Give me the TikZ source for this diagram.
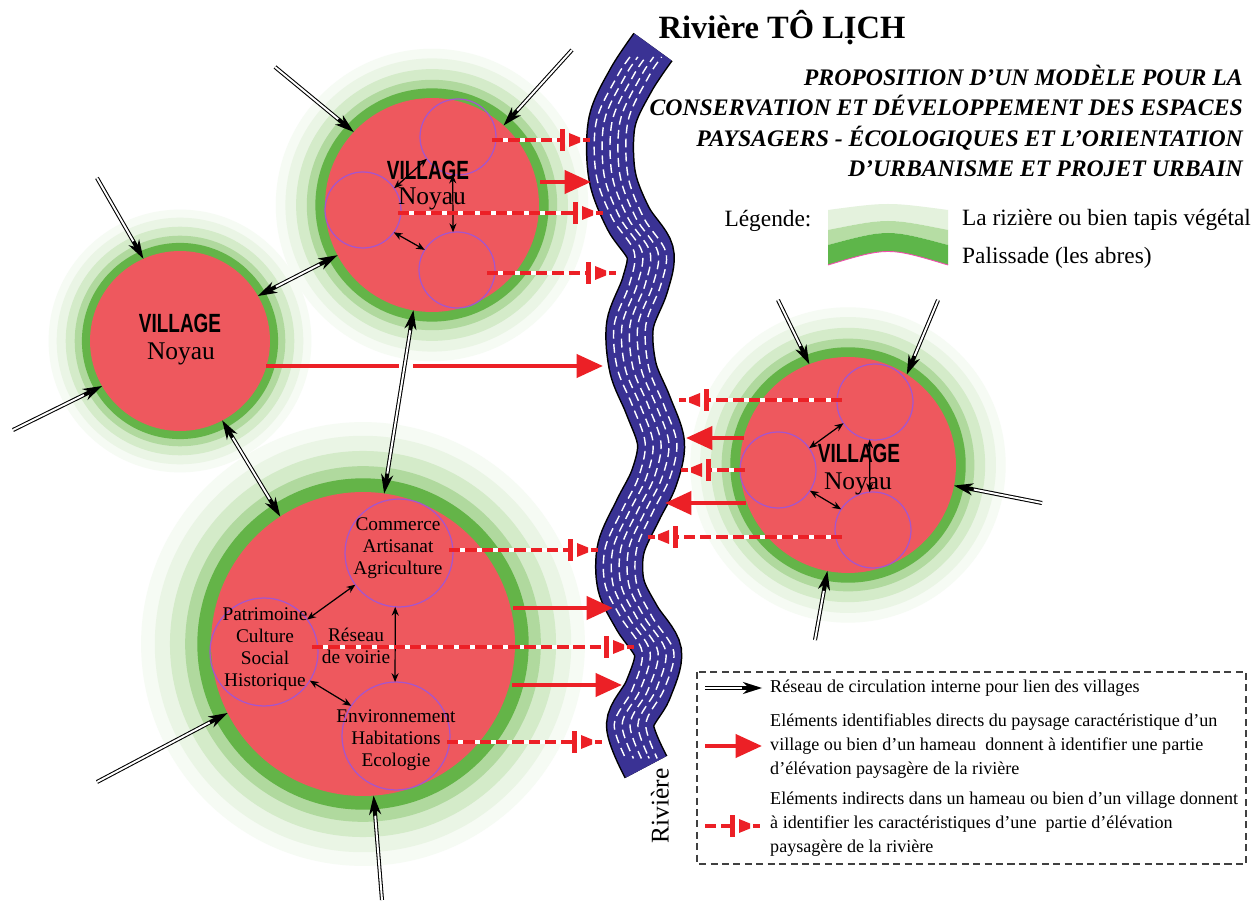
\documentclass[tikz,border=0pt]{standalone}
\usepackage{fontspec}
\setmainfont{Liberation Serif}
\newfontfamily\villfont{Liberation Sans}[FakeStretch=0.72]
\usetikzlibrary{arrows.meta}
\definecolor{vred}{RGB}{238,88,94}
\definecolor{vgreen}{RGB}{100,180,72}
\definecolor{gmed}{RGB}{176,217,158}
\definecolor{glight}{RGB}{212,235,201}
\definecolor{gfaint}{RGB}{234,245,229}
\definecolor{gfaintb}{RGB}{246,251,244}
\definecolor{ared}{RGB}{236,32,38}
\definecolor{rblue}{RGB}{58,50,148}
\definecolor{ipurple}{RGB}{165,85,205}
\definecolor{lgpale}{RGB}{228,242,221}
\definecolor{lgmid}{RGB}{182,221,164}
\definecolor{lgdark}{RGB}{94,182,74}
\newcommand\rivercurve{plot[smooth, tension=0.55] coordinates {(653,47) (631,80) (612,122) (612,175) (628,218) (650,252) (645,285) (630,325) (633,368) (648,405) (661,443) (654,478) (638,510) (621,548) (621,585) (637,618) (658,652) (648,690) (630,725) (646,767)}}
\begin{document}
\begin{tikzpicture}[x=0.02cm,y=-0.02cm,
  village/.style={circle, fill=vred, inner sep=0pt, outer sep=0pt},
  sub/.style={circle, draw=ipurple, line width=0.7pt, inner sep=0pt, outer sep=0pt},
  road/.style={draw=black, line width=2.3pt, -{Stealth[length=11pt,width=7pt,line width=0pt]},
     postaction={draw=white, line width=1.1pt, -, shorten >=11.5pt}},
  roadboth/.style={draw=black, line width=2.3pt, {Stealth[length=11pt,width=7pt,line width=0pt]}-{Stealth[length=11pt,width=7pt,line width=0pt]},
     postaction={draw=white, line width=1.1pt, -, shorten >=11.5pt, shorten <=11.5pt}},
  link/.style={draw=black, line width=0.7pt, {Stealth[length=5pt,width=4pt]}-{Stealth[length=5pt,width=4pt]}},
  direct/.style={draw=ared, line width=2.5pt},
  directtip/.style={draw=ared, line width=2.5pt, -{Triangle[length=15pt,width=13pt]}},
  indirect/.style={draw=ared, line width=2.3pt, dash pattern=on 6.5pt off 2.8pt, shorten >=16pt,
     preaction={draw=white, solid, line width=2.3pt, shorten >=16pt}},
  vname/.style={inner sep=0pt, font=\villfont\bfseries\fontsize{15}{15}\selectfont},
  noyau/.style={inner sep=0pt, font=\fontsize{14.5}{15}\selectfont},
  ctext/.style={font=\fontsize{11}{12.6}\selectfont, align=center},
  legtext/.style={anchor=west, align=left, font=\fontsize{10.3}{13.6}\selectfont},
  itip/.pic={
    \fill[ared] (-30,-11) rectangle (-25,11);
    \fill[ared] (-21,-7) -- (-10,-2.5) -- (-10,2.5) -- (-21,7) -- cycle;
    \draw[ared, line width=2.3pt] (-7,0) -- (0,0);
  }
]
\useasboundingbox (0,0) rectangle (1258,901);
\fill[white] (0,0) rectangle (1258,901);

% centres
\coordinate (cA) at (180,341);
\coordinate (cB) at (432,205);
\coordinate (cC) at (363,644);
\coordinate (cD) at (848,465);

% halos and palisades
\foreach \f/\col in {1.46/gfaintb,1.37/gfaint,1.27/glight,1.17/gmed,1.09/vgreen}{
  \foreach \cc/\rr in {cA/90,cB/107,cC/152,cD/108}{
    \fill[\col] (\cc) circle[radius={\f*\rr*0.02cm}];
  }
}

% villages
\node[village, minimum size=3.6cm] (A) at (cA) {};
\node[village, minimum size=4.28cm] (B) at (cB) {};
\node[village, minimum size=6.08cm] (C) at (cC) {};
\node[village, minimum size=4.32cm] (D) at (cD) {};

% inner circles
\node[sub, minimum size=1.52cm] (B1) at (458,137) {};
\node[sub, minimum size=1.52cm] (B2) at (363,210) {};
\node[sub, minimum size=1.52cm] (B3) at (457,270) {};
\node[sub, minimum size=1.52cm] (D1) at (875,402) {};
\node[sub, minimum size=1.52cm] (D2) at (778,470) {};
\node[sub, minimum size=1.52cm] (D3) at (873,530) {};
\node[sub, minimum size=2.16cm] (C1) at (399,553) {};
\node[sub, minimum size=2.16cm] (C2) at (264,652) {};
\node[sub, minimum size=2.16cm] (C3) at (396,736) {};

% inner links
\draw[link] (B1.215) -- (B2.35);
\draw[link] (B1.262) -- (B3.96);
\draw[link] (B2.-36) -- (B3.148);
\draw[link] (D2.35) -- (D1.214);
\draw[link] (D2.-33) -- (D3.147);
\draw[link] (D1.262) -- (D3.95);
\draw[link] (C2.37) -- (C1.216);
\draw[link] (C1.266) -- (C3.91);
\draw[link] (C2.-32) -- (C3.146);

% texts in villages
\node[vname] (vA) at (180,323) {VILLAGE};
\node[noyau] (nA) at (181,354) {Noyau};
\node[vname] (vB) at (428,170) {VILLAGE};
\node[noyau] (nB) at (432,199) {Noyau};
\node[vname] (vD) at (859,453) {VILLAGE};
\node[noyau] (nD) at (858,484) {Noyau};
\node[ctext] (tC1) at (398,548) {Commerce\\Artisanat\\Agriculture};
\node[ctext] (tC2) at (265,649) {Patrimoine\\Culture\\Social\\Historique};
\node[ctext] (tC3) at (396,740) {Environnement\\Habitations\\Ecologie};
\node[ctext] (tR) at (356,646) {Réseau\\de voirie};

% river
\draw[black, line width=27.5pt] \rivercurve;
\draw[rblue, line width=25.8pt] \rivercurve;
\foreach \s/\ph in {-9/0,-4.5/3,0/6,4.5/1.5,9/4.5}{
  \draw[white, line width=0.8pt, dash pattern=on 5pt off 3pt, dash phase=\ph pt, xshift=\s pt, shorten <=7pt, shorten >=7pt] \rivercurve;
}
\node[rotate=90, font=\fontsize{14.5}{15}\selectfont] (rivlab) at (660,806) {Rivière};

% direct arrows
\coordinate (dBs) at (540,182); \coordinate (dBe) at (591,182);
\coordinate (dAs) at (266,366); \coordinate (dAg1) at (399,366); \coordinate (dAg2) at (413,366); \coordinate (dAe) at (603,366);
\coordinate (dC1s) at (513,608); \coordinate (dC1e) at (613,608);
\coordinate (dC2s) at (512,685); \coordinate (dC2e) at (622,685);
\coordinate (dD1s) at (744,438); \coordinate (dD1e) at (686,438);
\coordinate (dD2s) at (746,503); \coordinate (dD2e) at (665,503);
\draw[directtip] (dBs) -- (dBe);
\draw[direct] (dAs) -- (dAg1);
\draw[directtip] (dAg2) -- (dAe);
\draw[directtip] (dC1s) -- (dC1e);
\draw[directtip] (dC2s) -- (dC2e);
\draw[directtip] (dD1s) -- (dD1e);
\draw[directtip] (dD2s) -- (dD2e);

% indirect arrows
\coordinate (iB1s) at (492,140); \coordinate (iB1e) at (590,140);
\coordinate (iB2s) at (398,213); \coordinate (iB2e) at (603,213);
\coordinate (iB3s) at (487,273); \coordinate (iB3e) at (616,273);
\coordinate (iC1s) at (449,550); \coordinate (iC1e) at (598,550);
\coordinate (iC2s) at (312,647); \coordinate (iC2e) at (634,647);
\coordinate (iC3s) at (447,742); \coordinate (iC3e) at (602,742);
\coordinate (iD1s) at (842,400); \coordinate (iD1e) at (679,400);
\coordinate (iD2s) at (745,470); \coordinate (iD2e) at (681,470);
\coordinate (iD3s) at (842,537); \coordinate (iD3e) at (648,537);
\foreach \n in {iB1,iB2,iB3,iC1,iC2,iC3}{
  \draw[indirect] (\n s) -- (\n e);
  \pic at (\n e) {itip};
}
\foreach \n in {iD1,iD2,iD3}{
  \draw[indirect] (\n s) -- (\n e);
  \pic[rotate=180] at (\n e) {itip};
}

% roads
\coordinate (r1) at (97,178);
\coordinate (r2) at (13,430);
\coordinate (r6) at (275,67);
\coordinate (r7) at (572,50);
\coordinate (r8) at (97,782);
\coordinate (r9) at (382,900);
\coordinate (r10) at (778,300);
\coordinate (r11) at (938,300);
\coordinate (r12) at (1042,503);
\coordinate (r13) at (815,640);
\draw[road] (r1) -- (A.114.6);
\draw[road] (r2) -- (A.210);
\draw[roadboth] (A.30) -- (B.208);
\draw[roadboth] (A.-62) -- (C.123);
\draw[roadboth] (B.260) -- (C.82);
\draw[road] (r6) -- (B.137.6);
\draw[road] (r7) -- (B.48.3);
\draw[road] (r8) -- (C.207.5);
\draw[road] (r9) -- (C.-86.4);
\draw[road] (r10) -- (D.111.4);
\draw[road] (r11) -- (D.57.2);
\draw[road] (r12) -- (D.-11.4);
\draw[road] (r13) -- (D.259);

% titles
\node[font=\bfseries\fontsize{18.5}{20}\selectfont] (title) at (782,28) {Rivière TÔ LỊCH};
\node[anchor=east, align=right, font=\bfseries\itshape\fontsize{13.5}{17.3}\selectfont] (subtitle) at (1249,121)
  {PROPOSITION D'UN MODÈLE POUR LA\\CONSERVATION ET DÉVELOPPEMENT DES ESPACES\\PAYSAGERS - ÉCOLOGIQUES ET L'ORIENTATION\\D'URBANISME ET PROJET URBAIN};

% legend (vegetation)
\node[font=\fontsize{13.3}{14}\selectfont] (leg) at (768,221) {Légende:};
\fill[lgpale] (828,210) .. controls (888,202) .. (948,210) -- (948,230) .. controls (888,218) .. (828,230) -- cycle;
\fill[lgmid] (828,230) .. controls (888,218) .. (948,230) -- (948,245) .. controls (888,229) .. (828,245) -- cycle;
\fill[lgdark] (828,245) .. controls (888,229) .. (948,245) -- (948,265) .. controls (888,247) .. (828,265) -- cycle;
\draw[magenta!70, line width=0.5pt] (828,265) .. controls (888,247) .. (948,265);
\node[anchor=west, font=\fontsize{13.3}{14}\selectfont] (leg1) at (956,220) {La rizière ou bien tapis végétal};
\node[anchor=west, font=\fontsize{13.3}{14}\selectfont] (leg2) at (956,258) {Palissade (les abres)};

% legend box
\draw[black!75, line width=0.7pt, dash pattern=on 4pt off 2.5pt] (697,672) rectangle (1246,864);
\coordinate (l1s) at (705,688); \coordinate (l1e) at (762,688);
\coordinate (l2s) at (705,746); \coordinate (l2e) at (762,746);
\coordinate (l3s) at (705,826); \coordinate (l3e) at (760,826);
\draw[road] (l1s) -- (l1e);
\draw[directtip] (l2s) -- (l2e);
\draw[indirect] (l3s) -- (l3e);
\pic at (l3e) {itip};
\node[legtext] (lt1) at (764,688) {Réseau de circulation interne pour lien des villages};
\node[legtext] (lt2) at (764,746) {Eléments identifiables directs du paysage caractéristique d'un\\village ou bien d'un hameau\ \ donnent à identifier une partie\\d'élévation paysagère de la rivière};
\node[legtext] (lt3) at (764,824) {Eléments indirects dans un hameau ou bien d'un village donnent\\à identifier les caractéristiques d'une\ \ partie d'élévation\\paysagère de la rivière};
\end{tikzpicture}
\end{document}
